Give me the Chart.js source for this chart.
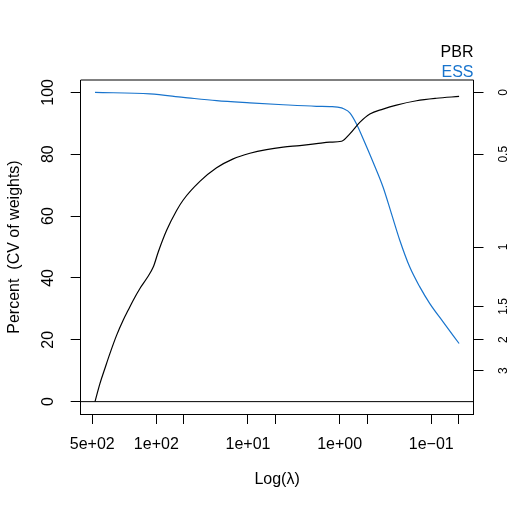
<!DOCTYPE html>
<html>
<head>
<meta charset="utf-8">
<script src="https://cdn.jsdelivr.net/npm/chart.js@4/dist/chart.umd.min.js"></script>
<style>
  html, body { margin: 0; padding: 0; background: #fff; }
  canvas { display: block; }
</style>
</head>
<body>
<canvas id="c" width="515" height="515"></canvas>
<script>
// ---- data ----
const pbrLambda = [467, 412, 363.5, 320.6, 271, 229.6, 202.5, 178.6, 151, 127.6, 108.1, 95.3, 77.2, 60.1, 50.9, 33.5, 22.0, 14.5, 9.53, 6.27, 4.13, 2.72, 1.79, 1.28, 0.953, 0.774, 0.603, 0.468, 0.336, 0.2395, 0.145, 0.0877, 0.0497];
const pbrValues = [0, 5.9, 10.8, 15.6, 21.5, 26.4, 29.6, 32.8, 36.6, 39.8, 43.5, 48.4, 55.4, 61.8, 65.2, 71.2, 75.6, 78.5, 80.3, 81.5, 82.3, 82.8, 83.4, 83.9, 84.2, 86.6, 90.3, 93.0, 94.6, 95.9, 97.3, 98.1, 98.7];

const essLambda = [467, 117.4, 50.9, 22.0, 9.53, 4.13, 1.79, 1.28, 0.953, 0.918, 0.774, 0.654, 0.554, 0.431, 0.336, 0.272, 0.2206, 0.1716, 0.1334, 0.1037, 0.0743, 0.0497];
const essValues = [100, 99.5, 98.4, 97.3, 96.6, 96.0, 95.5, 95.4, 95.0, 94.8, 93.4, 89.8, 85.0, 77.4, 69.4, 60.8, 52.2, 43.5, 37.1, 31.7, 25.8, 18.8];

const baselineValue = 0;

const xTickValues = [500, 100, 50, 10, 5, 1, 0.5, 0.1, 0.05];
const xLabelValues = [500, 100, 10, 1, 0.1];
const xTickLabels = ['5e+02', '1e+02', '1e+01', '1e+00', '1e\u221201'];

const yTickValues = [0, 20, 40, 60, 80, 100];
const cvTickValues = [0, 0.5, 1, 1.5, 2, 3];
const cvTickLabels = ['0', '0.5', '1', '1.5', '2', '3'];

const seriesNames = ['PBR', 'ESS'];
const seriesColors = ['#000000', '#1874CD'];

// ---- chart ----
Chart.defaults.font.family = '"Liberation Sans", Arial, Helvetica, sans-serif';
Chart.defaults.color = '#000';

const toPoints = (xs, ys) => xs.map((x, i) => ({ x: x, y: ys[i] }));
const essPos = cv => 100 / (1 + cv * cv);

const framePlugin = {
  id: 'frame',
  beforeDatasetsDraw(chart) {
    const { ctx, chartArea: a, scales } = chart;
    ctx.save();
    ctx.strokeStyle = '#000';
    ctx.lineWidth = 1;
    const y0 = scales.y.getPixelForValue(baselineValue);
    ctx.beginPath();
    ctx.moveTo(a.left, y0);
    ctx.lineTo(a.right, y0);
    ctx.stroke();
    ctx.beginPath();
    ctx.moveTo(a.left, a.top);
    ctx.lineTo(a.right, a.top);
    ctx.stroke();
    ctx.restore();
  },
  afterDraw(chart) {
    const { ctx, chartArea: a } = chart;
    ctx.save();
    ctx.font = '16px "Liberation Sans", Arial, sans-serif';
    ctx.textAlign = 'right';
    ctx.textBaseline = 'alphabetic';
    ctx.fillStyle = seriesColors[0];
    ctx.fillText(seriesNames[0], a.right, 57);
    ctx.fillStyle = seriesColors[1];
    ctx.fillText(seriesNames[1], a.right, 77);
    ctx.restore();
  }
};

const tickGrid = { display: true, drawOnChartArea: false, drawTicks: true, tickLength: 10, color: '#000', lineWidth: 1 };

new Chart(document.getElementById('c'), {
  type: 'line',
  data: {
    datasets: [
      {
        label: seriesNames[0],
        data: toPoints(pbrLambda, pbrValues),
        borderColor: seriesColors[0],
        borderWidth: 1.2,
        pointRadius: 0,
        fill: false,
        cubicInterpolationMode: 'monotone',
        yAxisID: 'y'
      },
      {
        label: seriesNames[1],
        data: toPoints(essLambda, essValues),
        borderColor: seriesColors[1],
        borderWidth: 1.2,
        pointRadius: 0,
        fill: false,
        cubicInterpolationMode: 'monotone',
        yAxisID: 'y'
      }
    ]
  },
  options: {
    responsive: false,
    animation: false,
    events: [],
    layout: { padding: { top: 80, left: 0, right: 0, bottom: 0 } },
    plugins: { legend: { display: false }, title: { display: false }, tooltip: { enabled: false } },
    scales: {
      x: {
        type: 'logarithmic',
        position: 'bottom',
        reverse: true,
        min: 0.0346,
        max: 669,
        afterBuildTicks: s => { s.ticks = xTickValues.map(v => ({ value: v })); },
        afterFit: s => { s.height = 101; },
        ticks: {
          autoSkip: false,
          maxRotation: 0,
          minRotation: 0,
          padding: 11.4,
          font: { size: 16 },
          color: '#000',
          callback: (v) => {
            const k = xLabelValues.findIndex(t => Math.abs(t - v) / t < 1e-6);
            return k >= 0 ? xTickLabels[k] : '';
          }
        },
        grid: tickGrid,
        border: { display: true, color: '#000', width: 1 },
        title: { display: true, text: 'Log(\u03bb)', font: { size: 16 }, color: '#000', padding: { top: 0, bottom: 25.4 } }
      },
      y: {
        type: 'linear',
        position: 'left',
        min: -4,
        max: 104,
        afterBuildTicks: s => { s.ticks = yTickValues.map(v => ({ value: v })); },
        afterFit: s => { s.width = 80.7; },
        ticks: {
          autoSkip: false,
          minRotation: 90,
          maxRotation: 90,
          crossAlign: 'center',
          padding: 8.4,
          font: { size: 16 },
          color: '#000',
          callback: v => String(v)
        },
        grid: tickGrid,
        border: { display: true, color: '#000', width: 1 },
        title: { display: true, text: 'Percent  (CV of weights)', font: { size: 16 }, color: '#000', padding: { top: 5.4, bottom: 0 } }
      },
      y2: {
        type: 'linear',
        position: 'right',
        min: -4,
        max: 104,
        afterBuildTicks: s => { s.ticks = cvTickValues.map(cv => ({ value: essPos(cv) })); },
        afterFit: s => { s.width = 41.5; },
        ticks: {
          autoSkip: false,
          minRotation: 90,
          maxRotation: 90,
          crossAlign: 'center',
          padding: 12,
          font: { size: 12 },
          color: '#000',
          callback: (v, i) => cvTickLabels[i]
        },
        grid: tickGrid,
        border: { display: true, color: '#000', width: 1 }
      }
    }
  },
  plugins: [framePlugin]
});
</script>
</body>
</html>
